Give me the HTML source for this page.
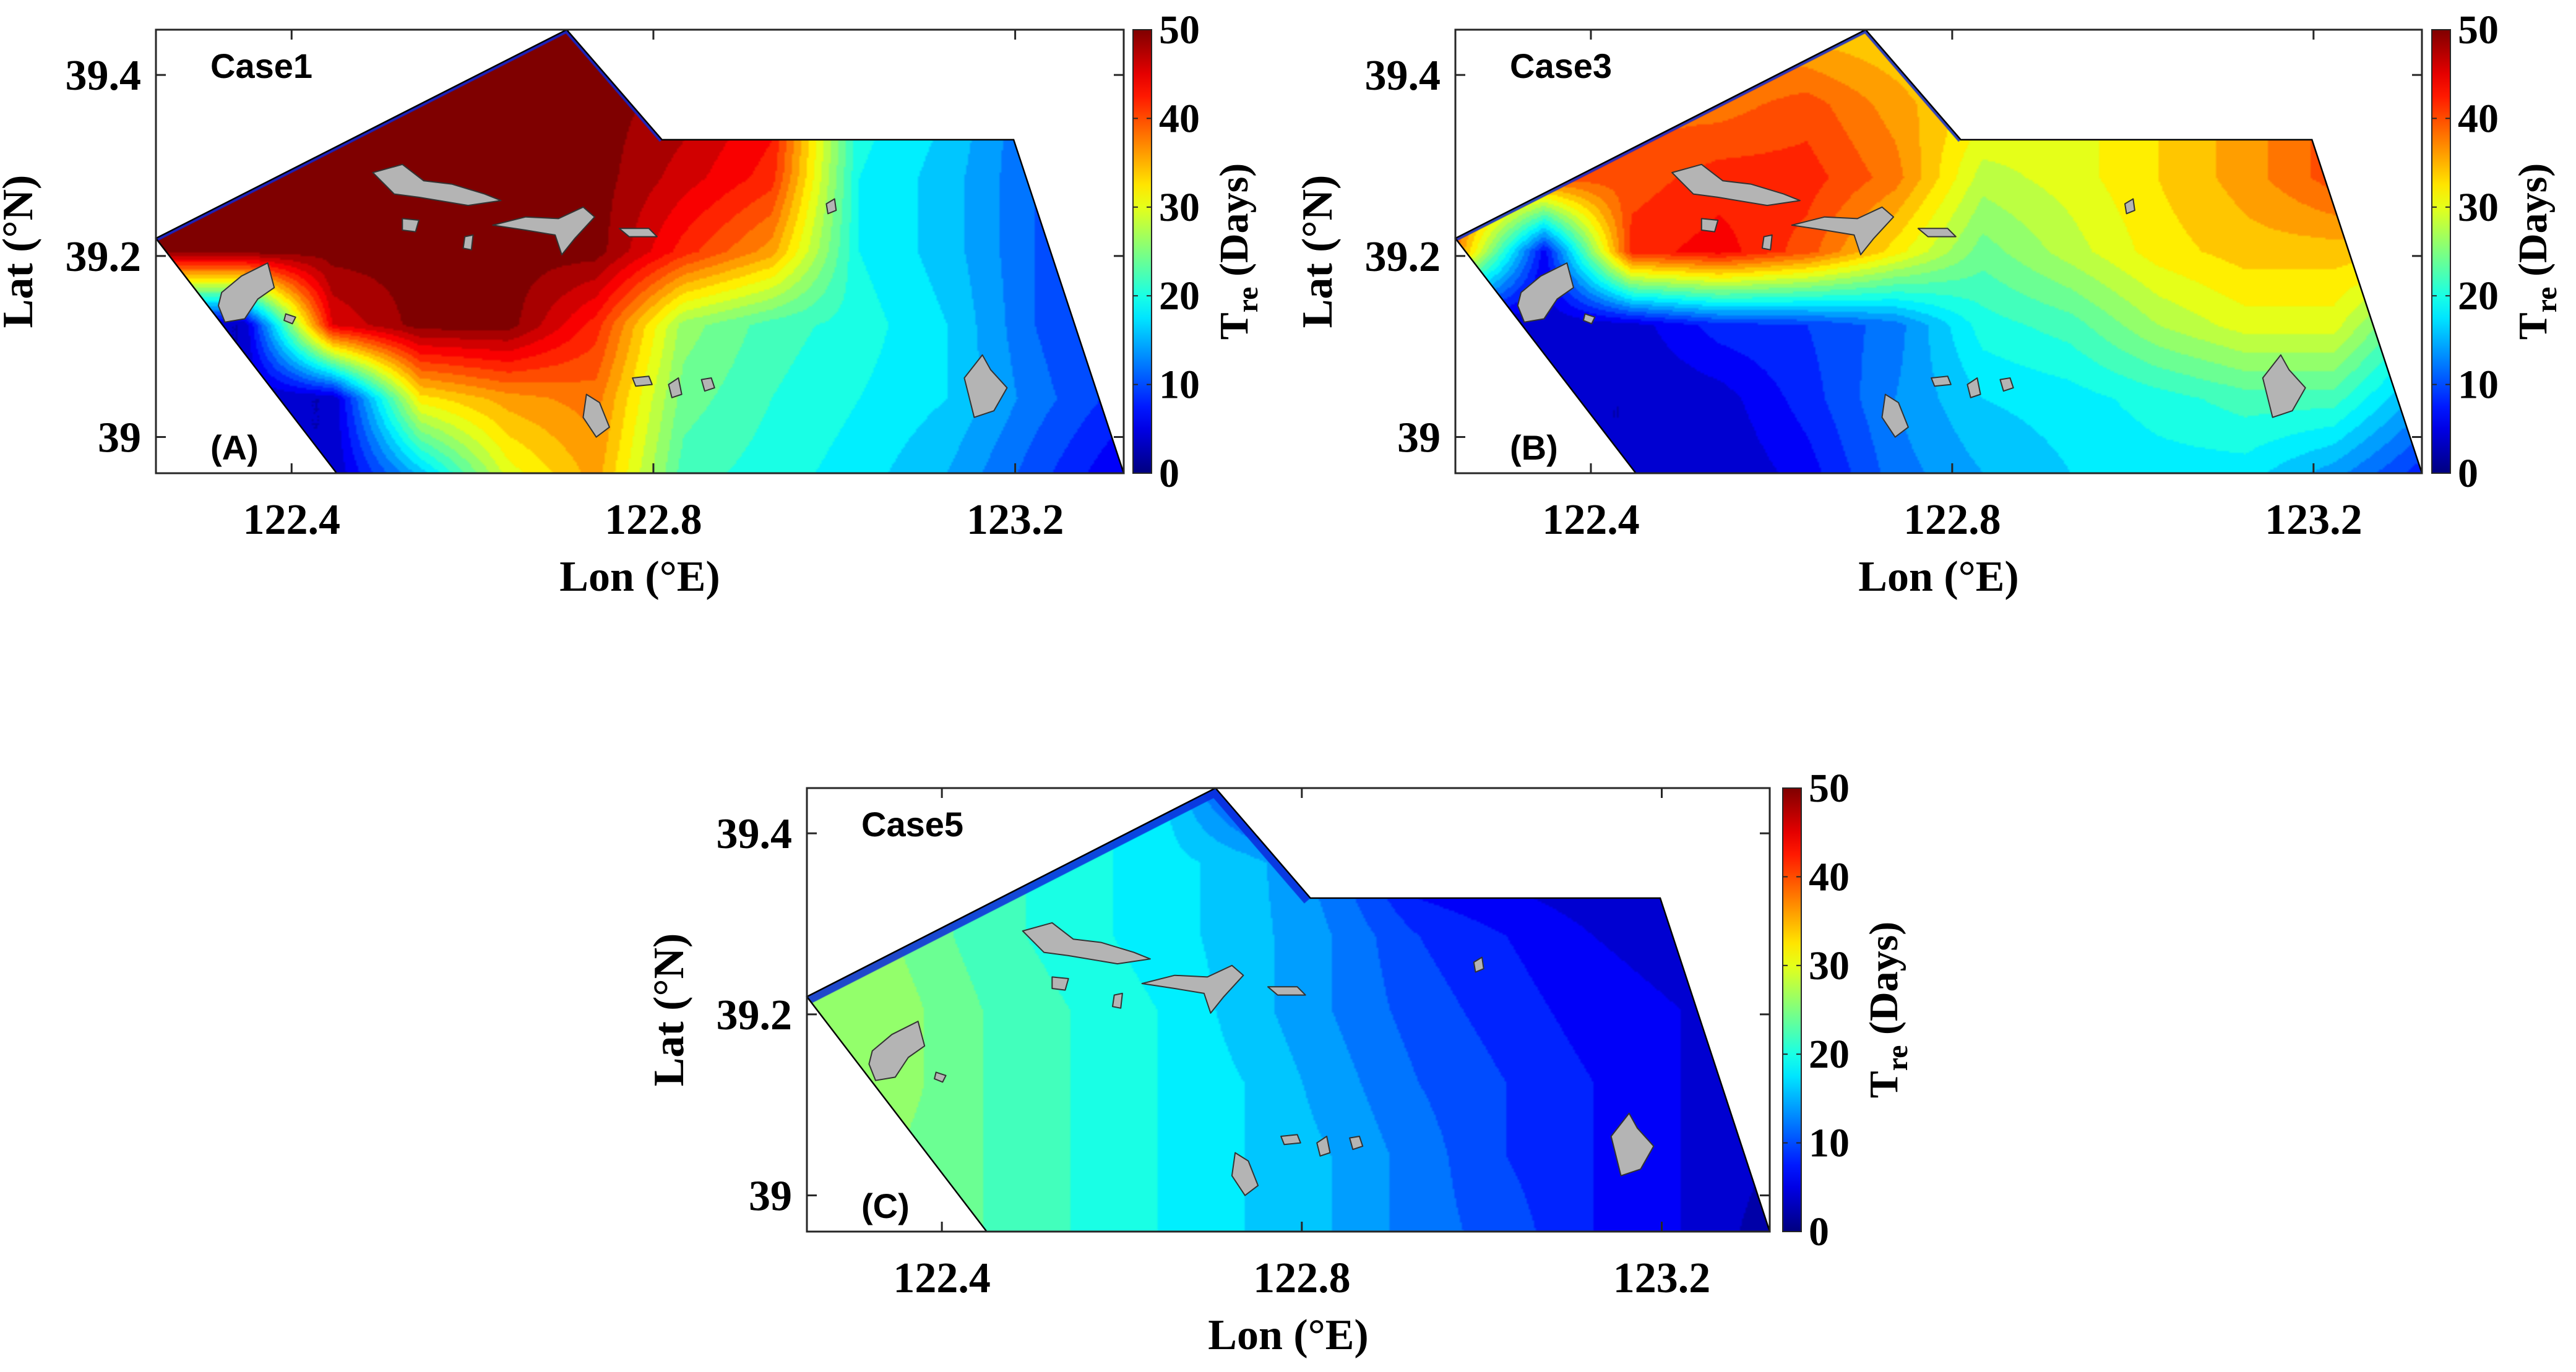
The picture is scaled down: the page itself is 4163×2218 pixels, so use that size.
<!DOCTYPE html>
<html><head><meta charset="utf-8"><style>
html,body{margin:0;padding:0;background:#fff;}
#wrap{position:relative;width:4163px;height:2218px;overflow:hidden;background:#fff;}
canvas{position:absolute;}
svg{position:absolute;left:0;top:0;}
</style></head><body>
<div id="wrap">
<svg id="ov" width="4163" height="2218"></svg>
</div>
<script>
// ---- data (values in days, grid 12 lon cols x 7 lat rows) ----
const gridA=[
[0,50,50,50,50,50,47,42,22,18,12,8],
[50,50,50,50,50,50,48,44,20,17,11,8],
[50,50,50,50,50,50,46,42,19,16,11,7],
[50,50,50,50,50,50,42,36,19,16,11,7],
[3,3,45,50,50,42,26,22,20,17,11,7],
[3,3,3,32,36,38,24,21,19,17,12,8],
[3,3,3,16,30,36,22,20,18,15,10,5]];
const gridB=[
[40,40,38,36,34,33,32,32,33,36,40,42],
[40,40,38,38,40,36,32,30,33,36,40,44],
[40,40,40,42,42,38,28,30,33,36,40,42],
[38,6,42,44,40,32,24,28,32,34,34,34],
[3,3,4,8,9,12,20,22,27,30,30,20],
[3,3,3,4,8,13,17,18,20,22,22,14],
[3,3,3,3,6,12,15,17,18,18,14,8]];
const gridC=[
[25,24,22,20,18,8,3,3,3,3,3,3],
[25,24,22,20,18,16,12,5,4,3,3,3],
[26,25,22,20,18,16,13,9,7,5,4,3],
[27,26,23,21,19,16,13,10,8,6,5,4],
[27,26,23,21,19,17,14,11,9,7,5,4],
[26,25,23,21,19,17,15,12,9,7,5,3],
[25,25,23,21,19,17,15,12,10,7,5,2]];
const lonTicks=[122.4,122.8,123.2];
const latTicks=[39,39.2,39.4];
const cbTicks=[0,10,20,30,40,50];
const caseNames=["Case1","Case3","Case5"];
const panelTags=["(A)","(B)","(C)"];
// ---------------------------------------------------------------
const LON0=122.25,LON1=123.32,LAT0=38.96,LAT1=39.45,VMAX=50;
const panels=[
 {x:252,y:48,w:1564,h:717,cb:1831,grid:gridA,edge:10},
 {x:2352,y:48,w:1562,h:717,cb:3930,grid:gridB,edge:10},
 {x:1304,y:1274,w:1556,h:717,cb:2881,grid:gridC,edge:26}];
const domain=[[0,127],[250,0],[308,67],[522,67],[589,270],[110,270]];
const islands=[
 [[132,87],[150,82],[163,92],[180,94],[200,100],[210,104],[190,107],[160,102],[145,100]],
 [[205,119],[225,114],[245,115],[260,108],[267,114],[255,127],[247,137],[243,125],[225,122]],
 [[40,160],[52,150],[68,142],[72,157],[62,164],[54,176],[42,178],[38,168]],
 [[492,212],[503,198],[508,207],[518,218],[510,232],[498,236]],
 [[262,222],[270,227],[276,242],[268,248],[260,236]],
 [[290,212],[300,211],[302,216],[292,217]],
 [[312,216],[318,212],[320,222],[314,224]],
 [[332,213],[338,212],[340,218],[334,220]],
 [[408,106],[413,103],[414,110],[409,112]],
 [[150,115],[160,116],[158,123],[150,122]],
 [[188,126],[193,125],[192,134],[187,133]],
 [[282,121],[300,121],[305,126],[288,126]],
 [[79,173],[85,175],[83,179],[78,177]]];
function jet(v){
 let t=Math.max(0,Math.min(1,v/VMAX));
 const f=(x)=>Math.max(0,Math.min(1,x));
 const r=f(Math.min(4*t-1.5,-4*t+4.5)),g=f(Math.min(4*t-0.5,-4*t+3.5)),b=f(Math.min(4*t+0.5,-4*t+2.5));
 return [r*255|0,g*255|0,b*255|0];
}
const NS='http://www.w3.org/2000/svg';
const ov=document.getElementById('ov');
function el(tag,attrs,parent){const e=document.createElementNS(NS,tag);for(const k in attrs)e.setAttribute(k,attrs[k]);(parent||ov).appendChild(e);return e;}
const wrap=document.getElementById('wrap');
panels.forEach((p,pi)=>{
 const sx=p.w/589,sy=p.h/270;
 const lx=(lon)=>p.x+(lon-LON0)/(LON1-LON0)*p.w;
 const ly=(lat)=>p.y+(LAT1-lat)/(LAT1-LAT0)*p.h;
 const c=document.createElement('canvas');
 c.width=p.w;c.height=p.h;c.style.left=p.x+'px';c.style.top=p.y+'px';
 
 
 wrap.insertBefore(c,ov);
 const s=3,lw=Math.ceil(p.w/s),lh=Math.ceil(p.h/s);
 const lo=document.createElement('canvas');lo.width=lw;lo.height=lh;
 const lctx=lo.getContext('2d');const img=lctx.createImageData(lw,lh);
 const G=p.grid,nr=G.length,nc=G[0].length;
 for(let j=0;j<lh;j++)for(let i=0;i<lw;i++){
  const u=i/(lw-1)*(nc-1),v=j/(lh-1)*(nr-1);
  const i0=Math.min(nc-2,Math.floor(u)),j0=Math.min(nr-2,Math.floor(v));
  const fu=u-i0,fv=v-j0;
  let val=G[j0][i0]*(1-fu)*(1-fv)+G[j0][i0+1]*fu*(1-fv)+G[j0+1][i0]*(1-fu)*fv+G[j0+1][i0+1]*fu*fv;
  val=Math.round(val/2)*2;
  const col=jet(val),k=(j*lw+i)*4;
  img.data[k]=col[0];img.data[k+1]=col[1];img.data[k+2]=col[2];img.data[k+3]=255;
 }
 lctx.putImageData(img,0,0);
 const ctx=c.getContext('2d');
 ctx.beginPath();domain.forEach((q,k)=>{const X=q[0]*sx,Y=q[1]*sy;k?ctx.lineTo(X,Y):ctx.moveTo(X,Y);});ctx.closePath();
 ctx.save();ctx.clip();
 ctx.imageSmoothingEnabled=true;ctx.drawImage(lo,0,0,p.w,p.h);
 ctx.strokeStyle='rgba(10,40,220,0.85)';ctx.lineWidth=p.edge;
 ctx.beginPath();ctx.moveTo(domain[0][0]*sx,domain[0][1]*sy);ctx.lineTo(domain[1][0]*sx,domain[1][1]*sy);ctx.lineTo(domain[2][0]*sx,domain[2][1]*sy);ctx.stroke();
 ctx.restore();
 const g=el('g',{});
 
 
 islands.forEach((isl)=>{
  const pts=isl.map(q=>(p.x+q[0]*sx).toFixed(1)+','+(p.y+q[1]*sy).toFixed(1)).join(' ');
  const e=el('polygon',{points:pts,fill:'#b4b4b4',stroke:'#333','stroke-width':2,'stroke-linejoin':'round'},g);
  
  
 });
 const dp=domain.map(q=>(p.x+q[0]*sx).toFixed(1)+','+(p.y+q[1]*sy).toFixed(1)).join(' ');
 const dom=el('polygon',{points:dp,fill:'none',stroke:'#000','stroke-width':2.5},g);
 
 
 const fr=el('rect',{x:p.x,y:p.y,width:p.w,height:p.h,fill:'none',stroke:'#262626','stroke-width':3},g);
 
 
 lonTicks.forEach(t=>{
  const X=lx(t);
  el('line',{x1:X,y1:p.y+p.h,x2:X,y2:p.y+p.h-16,stroke:'#262626','stroke-width':3},g);
  el('line',{x1:X,y1:p.y,x2:X,y2:p.y+16,stroke:'#262626','stroke-width':3},g);
  const tx=el('text',{x:X,y:p.y+p.h+98,'text-anchor':'middle','font-family':'Liberation Serif, serif','font-weight':'bold','font-size':70},g);
  tx.textContent=t.toFixed(1);
  
  
 });
 latTicks.forEach(t=>{
  const Y=ly(t);
  el('line',{x1:p.x,y1:Y,x2:p.x+16,y2:Y,stroke:'#262626','stroke-width':3},g);
  el('line',{x1:p.x+p.w,y1:Y,x2:p.x+p.w-16,y2:Y,stroke:'#262626','stroke-width':3},g);
  const tx=el('text',{x:p.x-24,y:Y+24,'text-anchor':'end','font-family':'Liberation Serif, serif','font-weight':'bold','font-size':70},g);
  tx.textContent=t===39?'39':t.toFixed(1);
  
  
 });
 const xl=el('text',{x:p.x+p.w/2,y:p.y+p.h+190,'text-anchor':'middle','font-family':'Liberation Serif, serif','font-weight':'bold','font-size':70},g);
 xl.textContent='Lon (°E)';
 
 
 const yx=p.x-200,yy=p.y+p.h/2;
 const yl=el('text',{x:yx,y:yy,'text-anchor':'middle','font-family':'Liberation Serif, serif','font-weight':'bold','font-size':70,transform:`rotate(-90 ${yx} ${yy})`},g);
 yl.textContent='Lat (°N)';
 
 
 const cl=el('text',{x:p.x+88,y:p.y+78,'font-family':'Liberation Sans, sans-serif','font-weight':'bold','font-size':56},g);
 cl.textContent=caseNames[pi];
 
 
 const pl=el('text',{x:p.x+88,y:p.y+p.h-22,'font-family':'Liberation Sans, sans-serif','font-weight':'bold','font-size':56},g);
 pl.textContent=panelTags[pi];
 
 
 const cbw=30;
 const defs=el('defs',{},g);
 const lg=el('linearGradient',{id:'cbg'+pi,x1:0,y1:1,x2:0,y2:0},defs);
 for(let k=0;k<=20;k++){const col=jet(k/20*VMAX);el('stop',{offset:k/20,'stop-color':`rgb(${col})`},lg);}
 const cb=el('rect',{x:p.cb,y:p.y,width:cbw,height:p.h,fill:`url(#cbg${pi})`,stroke:'#262626','stroke-width':2},g);
 
 
 cbTicks.forEach(t=>{
  const Y=p.y+p.h-(t/VMAX)*p.h;
  el('line',{x1:p.cb+cbw,y1:Y,x2:p.cb+cbw-8,y2:Y,stroke:'#262626','stroke-width':2},g);
  el('line',{x1:p.cb,y1:Y,x2:p.cb+8,y2:Y,stroke:'#262626','stroke-width':2},g);
  const tx=el('text',{x:p.cb+cbw+12,y:Y+22,'font-family':'Liberation Serif, serif','font-weight':'bold','font-size':66},g);
  tx.textContent=t;
  
  
 });
 const cx=p.cb+cbw+155,cy=p.y+p.h/2;
 const ct=el('text',{x:cx,y:cy,'text-anchor':'middle','font-family':'Liberation Serif, serif','font-weight':'bold','font-size':66,transform:`rotate(-90 ${cx} ${cy})`},g);
 const t1=el('tspan',{},ct);t1.textContent='T';
 const t2=el('tspan',{dy:16,'font-size':48},ct);t2.textContent='re';
 const t3=el('tspan',{dy:-16},ct);t3.textContent=' (Days)';
 
 
});
</script>
</body></html>
